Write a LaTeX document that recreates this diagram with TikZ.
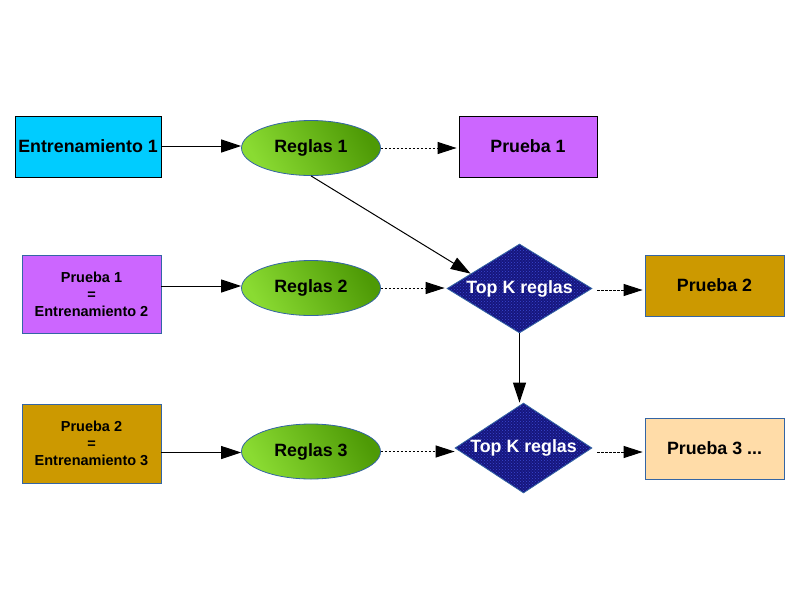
\documentclass[tikz,border=0pt]{standalone}
\usepackage{fontspec}
\setmainfont{Liberation Sans}
\usetikzlibrary{arrows.meta,shapes.geometric,patterns,calc}

\definecolor{cyanbox}{HTML}{00CCFF}
\definecolor{violetbox}{HTML}{CC66FF}
\definecolor{ochrebox}{HTML}{CC9900}
\definecolor{peachbox}{HTML}{FFDCA8}
\definecolor{edgeblue}{HTML}{3465A4}
\definecolor{greenlight}{HTML}{8ADB32}
\definecolor{greendark}{HTML}{4E9A06}
\definecolor{topkblue}{HTML}{16167E}
\definecolor{topkspeck}{HTML}{3A48D0}

\tikzset{
  box/.style={rectangle, draw=edgeblue, line width=0.8pt, inner sep=0pt, font=\bfseries\fontsize{17.8}{20}\selectfont, align=center},
  smallbox/.style={box, font=\bfseries\fontsize{14.5}{17}\selectfont},
  rules/.style={ellipse, draw=edgeblue, line width=0.8pt, inner sep=0pt, minimum width=139pt, minimum height=55pt,
    left color=greenlight, right color=greendark, shading angle=120, font=\bfseries\fontsize{17.8}{20}\selectfont},
  topk/.style={diamond, aspect=1.6, draw=edgeblue, line width=0.8pt, inner sep=0pt, text=white,
    preaction={fill=topkblue}, pattern=crosshatch dots, pattern color=topkspeck, font=\bfseries\fontsize{17.8}{20}\selectfont},
  flow/.style={-{Triangle[length=20pt,width=13pt]}, line width=1pt},
  dots/.style={-{Triangle[length=19pt,width=12pt]}, line width=1pt, dash pattern=on 2.5pt off 1.5pt}
}

\begin{document}
\begin{tikzpicture}[x=1pt, y=-1pt]
  \useasboundingbox (0,0) rectangle (800,600);
  % first row
  \node[box, draw=black, fill=cyanbox, minimum width=146pt, minimum height=61pt] (e1) at (88,146.5) {Entrenamiento 1};
  \node[rules] (r1) at (311,148) {Reglas 1};
  \node[box, draw=black, fill=violetbox, minimum width=138pt, minimum height=61pt] (p1) at (528,146.5) {Prueba 1};
  % second row
  \node[smallbox, fill=violetbox, minimum width=139pt, minimum height=78pt] (e2) at (91.5,294) {Prueba 1\\=\\Entrenamiento 2};
  \node[rules] (r2) at (311,288) {Reglas 2};
  \node[topk, minimum width=145pt, minimum height=89pt] (d1) at (519.5,288.5) {Top K reglas};
  \node[box, fill=ochrebox, minimum width=139pt, minimum height=61pt] (p2) at (714.5,285.5) {Prueba 2};
  % third row
  \node[smallbox, fill=ochrebox, minimum width=139pt, minimum height=79pt] (e3) at (91.5,443.5) {Prueba 2\\=\\Entrenamiento 3};
  \node[rules] (r3) at (311,451.5) {Reglas 3};
  \node[topk, minimum width=137pt, minimum height=90pt] (d2) at (523.5,448) {Top K reglas};
  \node[box, fill=peachbox, minimum width=139pt, minimum height=61pt] (p3) at (714.5,448.5) {Prueba 3 ...};

  \path[flow]
  (e1.east |- 0,146) edge (r1.west |- 0,146)
  (e2.east |- 0,286) edge (r2.west |- 0,286)
  (e3.east |- 0,452.5) edge (r3.west |- 0,452.5)
  (r1.south) edge ($(d1.west)!0.33!(d1.north)$)
  (d1.south -| 519.5,0) edge (d2.north -| 519.5,0)
  ;
  \path[dots, shorten >=2pt]
  (r1.east) edge (p1.west |- r1.east)
  (r2.east) edge (d1.west |- r2.east)
  (r3.east) edge ([xshift=2pt]d2.west |- r3.east)
  ;
  \path[dots, shorten <=5pt, shorten >=2pt]
  (d1.east |- 0,290) edge (p2.west |- 0,290)
  (d2.east |- 0,452) edge (p3.west |- 0,452)
  ;
\end{tikzpicture}
\end{document}
